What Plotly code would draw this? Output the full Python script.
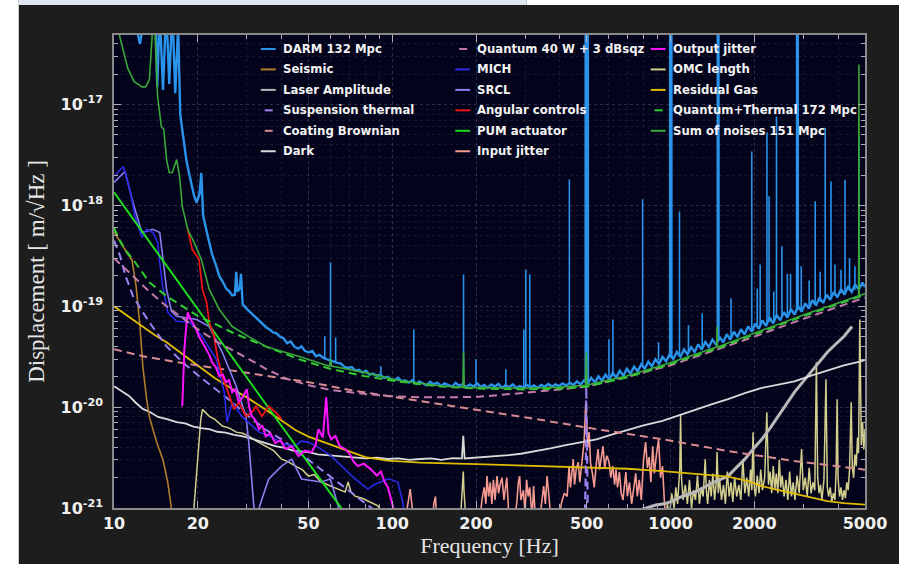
import plotly.graph_objects as go

# ---------------------------------------------------------------------------
# Amplitude spectral densities, displacement [m/sqrt(Hz)] vs frequency [Hz]
# Each series is a list of (frequency, ASD) pairs; None splits a trace.
# ---------------------------------------------------------------------------

darm = [
    (10, 3e-16), (11, 1.5e-16), (12, 6e-17), (12.4, 4.0e-17), (12.8, 7e-17), (13.3, 2e-16),
    (14.0, 2e-16), (14.3, 1.5e-17), (14.6, 8e-17), (15.0, 1.4e-17), (15.4, 9e-17), (15.8, 1.6e-17),
    (16.2, 9e-17), (16.6, 1.3e-17), (17.0, 6e-17), (17.3, 8e-18), (17.6, 5.6e-18), (17.9, 3.8e-18),
    (18.2, 2.8e-18), (18.6, 2.1e-18), (19.0, 1.55e-18), (19.4, 1.25e-18), (19.8, 1.07e-18),
    (20.3, 1.3e-18), (20.6, 2.1e-18), (20.9, 8e-19), (21.5, 5.6e-19), (22.0, 4.4e-19), (22.5, 3.3e-19),
    (23.2, 2.6e-19), (23.9, 2.0e-19), (24.6, 1.75e-19), (25.3, 1.5e-19), (26.0, 1.4e-19), (26.6, 1.28e-19),
    (27.2, 1.3e-19), (27.5, 2.2e-19), (27.8, 1.4e-19), (28.3, 1.5e-19), (28.6, 2.1e-19), (29.0, 1.05e-19),
    (29.8, 9.6e-20), (30.8, 8.8e-20), (31.8, 8.0e-20), (32.6, 7.6e-20), (33.4, 7.0e-20), (34.3, 6.6e-20),
    (35.2, 6.2e-20), (36.2, 5.9e-20), (37.3, 5.5e-20), (38.4, 5.4e-20), (39.5, 5.0e-20), (40.7, 4.8e-20),
    (41.9, 4.3e-20), (43.1, 4.5e-20), (44.4, 4.0e-20), (45.8, 3.8e-20), (47.2, 4.0e-20), (48.6, 3.6e-20),
    (50.1, 3.5e-20), (51.6, 3.6e-20), (53.2, 3.2e-20), (54.8, 3.3e-20), (56.4, 3.1e-20), (58.1, 3.0e-20),
    (59.9, 2.9e-20), (61.7, 2.85e-20), (63.5, 2.75e-20), (65.4, 2.7e-20), (67.4, 2.5e-20), (69.4, 2.45e-20),
    (71.5, 2.5e-20), (73.7, 2.3e-20), (75.9, 2.35e-20), (78.2, 2.2e-20), (80.5, 2.3e-20), (82.9, 2.1e-20),
    (85.4, 2.15e-20), (88.0, 2.05e-20), (90.6, 2.1e-20), (93.3, 1.95e-20), (96.1, 2.0e-20), (99, 1.9e-20),
    (102, 1.85e-20), (105, 1.95e-20), (108, 1.8e-20), (111, 1.85e-20), (115, 1.75e-20), (118, 1.85e-20),
    (122, 1.7e-20), (125, 1.8e-20), (129, 1.72e-20), (133, 1.65e-20), (137, 1.78e-20), (141, 1.68e-20),
    (145, 1.75e-20), (150, 1.62e-20), (154, 1.72e-20), (159, 1.66e-20), (164, 1.6e-20), (169, 1.74e-20),
    (174, 1.62e-20), (179, 1.7e-20), (184, 1.58e-20), (190, 1.68e-20), (196, 1.6e-20), (202, 1.72e-20),
    (208, 1.58e-20), (214, 1.66e-20), (220, 1.55e-20), (227, 1.68e-20), (234, 1.6e-20), (241, 1.7e-20),
    (248, 1.55e-20), (255, 1.64e-20), (263, 1.58e-20), (271, 1.68e-20), (279, 1.55e-20), (287, 1.62e-20),
    (296, 1.56e-20), (305, 1.66e-20), (314, 1.58e-20), (323, 1.64e-20), (333, 1.55e-20), (343, 1.66e-20),
    (353, 1.6e-20), (364, 1.7e-20), (375, 1.6e-20), (386, 1.68e-20), (398, 1.62e-20), (410, 1.72e-20),
    (422, 1.64e-20), (435, 1.74e-20), (448, 1.66e-20), (461, 1.8e-20), (475, 1.68e-20), (489, 1.84e-20),
    (504, 1.7e-20), (519, 1.95e-20), (535, 1.75e-20), (551, 2.02e-20), (567, 1.82e-20), (584, 2.1e-20),
    (602, 1.88e-20), (620, 2.18e-20), (638, 1.97e-20), (657, 2.3e-20), (677, 2.05e-20), (697, 2.4e-20),
    (718, 2.15e-20), (740, 2.52e-20), (762, 2.27e-20), (785, 2.66e-20), (808, 2.4e-20), (832, 2.82e-20),
    (857, 2.53e-20), (883, 2.98e-20), (909, 2.68e-20), (936, 3.14e-20), (964, 2.85e-20), (993, 3.35e-20),
    (1023, 3.0e-20), (1054, 3.52e-20), (1085, 3.16e-20), (1118, 3.72e-20), (1151, 3.34e-20), (1186, 3.93e-20),
    (1221, 3.53e-20), (1258, 4.2e-20), (1295, 3.72e-20), (1334, 4.42e-20), (1374, 3.95e-20), (1415, 4.68e-20),
    (1458, 4.15e-20), (1501, 4.95e-20), (1546, 4.4e-20), (1593, 5.28e-20), (1640, 4.68e-20), (1690, 5.6e-20),
    (1740, 4.95e-20), (1792, 5.92e-20), (1846, 5.25e-20), (1901, 6.32e-20), (1958, 5.6e-20), (2017, 6.75e-20),
    (2077, 5.98e-20), (2140, 7.25e-20), (2204, 6.38e-20), (2270, 7.7e-20), (2338, 6.78e-20), (2408, 8.2e-20),
    (2480, 7.25e-20), (2554, 8.75e-20), (2631, 7.75e-20), (2710, 9.35e-20), (2791, 8.3e-20), (2875, 1.0e-19),
    (2961, 8.88e-20), (3050, 1.07e-19), (3141, 9.5e-20), (3235, 1.15e-19), (3332, 1.02e-19), (3432, 1.22e-19),
    (3535, 1.08e-19), (3641, 1.3e-19), (3750, 1.16e-19), (3863, 1.39e-19), (3979, 1.23e-19), (4098, 1.48e-19),
    (4221, 1.31e-19), (4347, 1.56e-19), (4478, 1.39e-19), (4612, 1.65e-19), (4750, 1.46e-19), (4893, 1.72e-19),
    (5000, 1.55e-19),
]

# DARM lines: (frequency, floor, peak)
darm_lines = [
    (57.2, 3.0e-20, 5.05e-20), (60.0, 2.9e-20, 2.73e-19), (62.6, 2.8e-20, 4.9e-20), (91, 2.05e-20, 2.55e-20),
    (119.5, 1.75e-20, 5.9e-20), (180.4, 1.65e-20, 2.07e-19), (200, 1.6e-20, 2.99e-20), (256, 1.6e-20, 2.38e-20),
    (297, 1.6e-20, 5.9e-20), (302, 1.6e-20, 2.32e-19), (312, 1.6e-20, 2.07e-19), (433, 1.7e-20, 1.81e-18),
    (601, 2.0e-20, 4.7e-20), (621, 2.05e-20, 7.4e-20), (794, 2.55e-20, 1.15e-18), (906, 2.9e-20, 4.4e-20),
    (1077, 3.3e-20, 8.7e-19), (1160, 3.5e-20, 6.5e-20), (1300, 3.9e-20, 8.5e-20), (1650, 4.9e-20, 1.2e-19),
    (1959, 6.0e-20, 3.43e-18), (2050, 6.3e-20, 1.5e-19), (2100, 6.5e-20, 2.6e-19), (2221, 6.6e-20, 5.3e-18),
    (2260, 7.0e-20, 1.23e-18), (2350, 7.2e-20, 1.4e-19), (2404, 7.6e-20, 7.6e-18), (2515, 8.0e-20, 3.93e-19),
    (2630, 8.3e-20, 2.1e-19), (2700, 8.7e-20, 2.1e-19), (2950, 9.2e-20, 2.5e-19), (3150, 9.8e-20, 1.8e-19),
    (3311, 1.05e-19, 1.1e-18), (3450, 1.1e-19, 2.2e-19), (3597, 1.16e-19, 5.9e-18), (3774, 1.24e-19, 1.73e-18),
    (3900, 1.27e-19, 2.6e-19), (4100, 1.35e-19, 2.3e-19), (4237, 1.38e-19, 1.8e-18), (4400, 1.42e-19, 3.0e-19),
    (4600, 1.46e-19, 2.5e-19), (4755, 1.5e-19, 4.8e-18),
]
# Strong DARM lines running off the top of the plot
darm_strong_lines = [
    (497, 1.8e-20, 1e-16), (503, 1.8e-20, 1e-16), (1000, 3.1e-20, 1e-16), (1004, 3.1e-20, 1e-16),
    (1483, 4.5e-20, 1e-16), (2858, 9.3e-20, 1e-16),
]

seismic = [
    (10, 5.5e-19), (10.6, 4.2e-19), (11.2, 3.3e-19), (11.6, 2.9e-19), (12.0, 1.6e-19), (12.4, 6.3e-20),
    (12.7, 2.5e-20), (13.1, 1.2e-20), (13.4, 8.0e-21), (14.2, 4.6e-21), (15.0, 3.0e-21), (15.6, 1.8e-21),
    (16.1, 1.05e-21), (16.5, 6e-22),
]

laser_amplitude = [
    (700, 6e-22), (750, 9.3e-22), (820, 1.0e-21), (885, 1.07e-21), (950, 1.1e-21), (1014, 1.17e-21),
    (1100, 1.3e-21), (1227, 1.44e-21), (1400, 1.75e-21), (1610, 2.07e-21), (1720, 2.5e-21), (1850, 3.05e-21),
    (1990, 3.9e-21), (2128, 4.8e-21), (2280, 6.2e-21), (2430, 8.1e-21), (2600, 1.05e-20), (2790, 1.41e-20),
    (3000, 1.8e-20), (3200, 2.22e-20), (3420, 2.8e-20), (3660, 3.5e-20), (3920, 4.2e-20), (4207, 5.05e-20),
    (4490, 6.3e-20),
]

suspension_thermal = [
    (10, 4.5e-19), (10.5, 3.2e-19), (11.0, 2.0e-19), (11.7, 1.26e-19), (12.6, 9e-20), (13.4, 6.95e-20),
    (15.45, 4.0e-20), (17.6, 2.8e-20), (20.2, 2.03e-20), (23.3, 1.5e-20), (26.6, 1.12e-20), (30.5, 8.1e-21),
    (35, 6.0e-21), (40, 4.8e-21), (50, 3.0e-21), (60, 2.05e-21), (70, 1.48e-21), (80, 1.12e-21), (90, 8.7e-22),
    None,
    (490, 5e-22), (496, 2.5e-21), (498, 1.6e-20), (500, 2.5e-21), (506, 5e-22),
]

coating_brownian = [
    (10, 3.75e-20), (12.7, 3.2e-20), (16.8, 2.79e-20), (22, 2.49e-20), (28.8, 2.22e-20), (38, 1.98e-20),
    (50, 1.77e-20), (73.5, 1.45e-20), (100, 1.27e-20), (126, 1.15e-20), (180, 1.0e-20), (219, 9.2e-21),
    (312, 7.8e-21), (542, 6.05e-21), (936, 4.8e-21), (1610, 3.67e-21), (2790, 2.92e-21), (4200, 2.55e-21),
    (5000, 2.4e-21),
]

dark = [
    (10, 1.61e-20), (10.6, 1.45e-20), (11.3, 1.3e-20), (12.0, 1.1e-20), (12.7, 9.6e-21), (13.5, 8.9e-21),
    (14.4, 8.0e-21), (15.5, 7.6e-21), (16.8, 7.1e-21), (18.0, 6.9e-21), (19.3, 6.4e-21), (20.6, 6.2e-21),
    (22, 6.05e-21), (23.5, 5.7e-21), (25.2, 5.6e-21), (27, 5.3e-21), (28.8, 5.16e-21), (31, 4.9e-21),
    (33.3, 4.6e-21), (35.6, 4.4e-21), (38, 4.1e-21), (41, 3.95e-21), (44, 3.7e-21), (47, 3.65e-21),
    (50, 3.58e-21), (54, 3.4e-21), (58, 3.35e-21), (62, 3.3e-21), (67, 3.25e-21), (73.5, 3.2e-21),
    (80, 3.1e-21), (88, 3.15e-21), (96, 3.06e-21), (105, 3.1e-21), (115, 3.0e-21), (126, 3.06e-21),
    (138, 3.1e-21), (150, 3.0e-21), (165, 3.12e-21), (178, 3.1e-21), (180, 5.2e-21), (182, 3.1e-21),
    (198, 3.15e-21), (219, 3.2e-21), (240, 3.25e-21), (262, 3.35e-21), (290, 3.45e-21), (330, 3.67e-21),
    (370, 3.9e-21), (420, 4.2e-21), (480, 4.5e-21), (542, 4.8e-21), (610, 5.3e-21), (690, 5.9e-21),
    (800, 6.6e-21), (936, 7.3e-21), (1080, 8.4e-21), (1250, 9.6e-21), (1420, 1.08e-20), (1610, 1.2e-20),
    (1850, 1.38e-20), (2128, 1.55e-20), (2450, 1.68e-20), (2790, 1.8e-20), (3200, 2.05e-20), (3660, 2.3e-20),
    (4200, 2.6e-20), (4834, 2.85e-20), (5000, 2.95e-20),
]

quantum = [
    (10, 3.0e-19), (11.7, 2.0e-19), (13.4, 1.4e-19), (15.45, 1.0e-19), (17.6, 7.6e-20), (20.2, 5.8e-20),
    (23.3, 4.5e-20), (26.6, 3.7e-20), (30.5, 3.0e-20), (35.1, 2.4e-20), (42, 1.9e-20), (50, 1.65e-20),
    (60, 1.48e-20), (80, 1.35e-20), (100, 1.28e-20), (130, 1.25e-20), (200, 1.26e-20), (330, 1.42e-20),
    (500, 1.6e-20), (700, 2.0e-20), (1000, 2.6e-20), (1500, 3.8e-20), (2000, 5.0e-20), (3000, 7.5e-20),
    (5000, 1.22e-19),
]

mich = [
    (10, 1.94e-18), (10.8, 2.43e-18), (11.4, 1.44e-18), (11.9, 7.8e-19), (12.6, 4.8e-19), (13.1, 5.8e-19),
    (13.8, 5.4e-19), (14.35, 4.3e-19), (14.6, 2.73e-19), (14.96, 1.58e-19), (15.6, 8.7e-20), (16.8, 7.1e-20),
    (18.7, 6.95e-20), (20.7, 5.05e-20), (23.3, 2.99e-20), (24.9, 1.41e-20), (25.5, 7.1e-21), (26.6, 1.12e-20),
    (28.8, 8.1e-21), (33.2, 5.65e-21), (36, 5.2e-21), (38.1, 4.8e-21), (41, 4.3e-21), (44.9, 4.1e-21),
    (47, 4.6e-21), (50, 4.5e-21), (55, 3.9e-21), (60.4, 3.27e-21), (66, 2.6e-21), (73.5, 1.94e-21),
    (81.7, 1.54e-21), (86, 1.7e-21), (91, 1.81e-21), (97, 1.95e-21), (104.7, 1.81e-21), (109, 1.15e-21),
    (110.8, 8e-22),
]

srcl = [
    (10, 1.69e-18), (10.95, 2.17e-18), (11.7, 1.07e-18), (12.6, 5.4e-19), (13.8, 5.8e-19), (14.6, 5.4e-19),
    (14.96, 3.13e-19), (15.45, 1.47e-19), (16.1, 8.9e-20), (16.8, 7.96e-20), (19.8, 7.4e-20), (22, 6.3e-20),
    (24.5, 3.5e-20), (27.5, 1.61e-20), (29.8, 8.1e-21), (30.5, 4.5e-21), (31.8, 1.05e-21), (32.4, 8e-22),
    (34, 1.23e-21), (36, 1.94e-21), (40, 2.6e-21), (43.5, 3.05e-21), (47.2, 1.94e-21), (55.5, 1.81e-21),
    (59.9, 1.94e-21), (63.9, 1.05e-21), (65, 8e-22),
]

angular_controls = [
    (18.4, 5.8e-19), (19.1, 3.67e-19), (20.2, 2.92e-19), (20.8, 1.47e-19), (21.5, 1.1e-19), (22, 6.95e-20),
    (22.9, 5.05e-20), (23.5, 3.2e-20), (24.5, 2.03e-20), (25.9, 1.29e-20), (27, 9.55e-21), (28.1, 1.12e-20),
    (29.8, 8.1e-21), (31.3, 8.9e-21), (32.4, 1.02e-20), (34, 8.1e-21), (36, 1.02e-20), (38.1, 8.9e-21),
    (40, 7.6e-21),
]

pum_actuator = [
    (10, 1.35e-18), (20, 9.3e-20), (30, 1.94e-20), (40, 6.5e-21), (50, 2.79e-21), (60, 1.38e-21), (70, 7.8e-22),
]

input_jitter = [
    (110, 6e-22), (114, 1.2e-21), (116, 1.54e-21), (118, 1.0e-21), (121, 6e-22), None,
    (139, 6e-22), (141, 1.1e-21), (143, 1.3e-21), (145, 6e-22), None,
    (205, 6e-22), (210, 1.2e-21), (214, 1.6e-21), (217, 1.1e-21), (219, 2.07e-21), (222, 1.3e-21),
    (225, 1.8e-21), (228, 1.1e-21), (231, 1.9e-21), (234, 1.2e-21), (238, 2.07e-21), (241, 1.4e-21),
    (244, 1.7e-21), (248, 2.0e-21), (252, 1.2e-21), (255, 1.6e-21), (258, 2.0e-21), (262, 9e-22),
    (270, 6e-22), (280, 1.1e-21), (284, 1.8e-21), (287, 2.07e-21), (290, 1.2e-21), (296, 1.5e-21),
    (300, 9e-22), (304, 1.9e-21), (308, 1.3e-21), (312, 1.6e-21), (318, 8e-22), (322, 1.65e-21),
    (326, 9e-22), (335, 6e-22), (345, 1.2e-21), (350, 1.65e-21), (355, 1.1e-21), (360, 2.07e-21),
    (364, 1.5e-21), (368, 1.0e-21), (375, 6e-22), (390, 6e-22), (405, 1.1e-21), (415, 1.4e-21),
    (425, 1.3e-21), (432, 2.6e-21), (437, 1.6e-21), (442, 2.2e-21), (447, 3.05e-21), (452, 1.7e-21),
    (458, 2.4e-21), (466, 2.85e-21), (472, 1.8e-21), (478, 2.5e-21), (484, 3.3e-21), (489, 4.5e-21),
    (492, 6.5e-21), (496, 1.12e-20), (500, 7.0e-21), (505, 4.0e-21), (510, 5.65e-21), (516, 2.8e-21),
    (524, 2.2e-21), (532, 1.6e-21), (540, 2.6e-21), (549, 3.84e-21), (556, 2.4e-21), (565, 3.2e-21),
    (572, 4.1e-21), (580, 2.5e-21), (590, 3.3e-21), (601, 2.9e-21), (610, 2.0e-21), (620, 2.6e-21),
    (630, 1.7e-21), (637, 2.4e-21), (645, 1.6e-21), (655, 2.27e-21), (665, 1.4e-21), (675, 1.2e-21),
    (691, 2.27e-21), (700, 1.3e-21), (712, 1.8e-21), (725, 1.1e-21), (740, 1.6e-21), (750, 2.2e-21),
    (760, 1.3e-21), (772, 1.9e-21), (785, 1.2e-21), (800, 3.0e-21), (814, 4.5e-21), (826, 2.5e-21),
    (838, 3.2e-21), (850, 1.8e-21), (863, 4.1e-21), (875, 2.2e-21), (890, 3.4e-21), (906, 4.8e-21),
    (921, 2.0e-21), (936, 2.6e-21), (950, 1.2e-21), (965, 6e-22),
]

output_jitter = [
    (17.6, 1.02e-20), (17.8, 2.0e-20), (17.9, 3.75e-20), (18.2, 6.5e-20), (18.4, 8.7e-20), (18.8, 7.5e-20),
    (19.1, 6.95e-20), (19.6, 6.2e-20), (20.2, 5.05e-20), (20.8, 4.4e-20), (21.5, 3.75e-20), (22.0, 3.3e-20),
    (22.5, 2.79e-20), (23.2, 2.5e-20), (23.9, 2.03e-20), (24.6, 2.1e-20), (25.3, 1.77e-20), (25.9, 1.85e-20),
    (26.6, 1.41e-20), (27.3, 1.5e-20), (28.1, 1.12e-20), (29.0, 1.25e-20), (30.0, 1.51e-20), (30.6, 1.0e-20),
    (31.3, 8.1e-21), (32.2, 7.5e-21), (33.2, 6.05e-21), (34.1, 6.6e-21), (35.1, 5.16e-21), (36.5, 5.5e-21),
    (38, 4.4e-21), (39.6, 4.7e-21), (41.4, 3.84e-21), (43.5, 4.1e-21), (46, 3.27e-21), (48.5, 3.7e-21),
    (51.3, 3.58e-21), (53, 4.2e-21), (54.3, 6.05e-21), (56.3, 5.0e-21), (57.9, 1.26e-20), (59, 5.5e-21),
    (60.4, 4.8e-21), (62.5, 5.2e-21), (64.7, 4.1e-21), (67.7, 3.84e-21), (70.5, 3.4e-21), (72.5, 2.9e-21),
    (75.2, 2.6e-21), (79, 2.75e-21), (83.6, 2.43e-21), (88, 2.1e-21), (91, 2.3e-21), (93.9, 1.81e-21),
    (96.5, 1.6e-21), (98.5, 1.31e-21), (101.9, 9e-22),
]

omc_length = [
    (19.1, 6e-22), (19.6, 1.5e-21), (20.1, 4e-21), (20.5, 7.5e-21), (20.8, 9.5e-21), (21.3, 8.8e-21),
    (22.0, 8.1e-21), (23.0, 7.6e-21), (24.5, 6.5e-21), (26.0, 6.2e-21), (27.5, 5.65e-21), (29.0, 5.5e-21),
    (30.5, 5.16e-21), (32.5, 4.6e-21), (35.1, 4.1e-21), (37.5, 3.7e-21), (40, 3.05e-21), (42, 2.9e-21),
    (44.9, 2.6e-21), (47.5, 2.4e-21), (50, 2.07e-21), (52.5, 2.15e-21), (55.5, 1.81e-21), (59, 1.7e-21),
    (63.9, 1.54e-21), (67.7, 1.44e-21), (69.4, 1.81e-21), (71, 1.45e-21), (73.5, 1.31e-21), (78, 1.25e-21),
    (83.6, 1.15e-21), (88.8, 1.05e-21), (94, 8e-22), None,
    (175, 6e-22), (179, 1.5e-21), (180, 2.3e-21), (181, 1.5e-21), (185, 6e-22), None,
    (950, 6e-22), (975, 1.1e-21), (990, 8e-22), (1010, 1.4e-21), (1030, 1.0e-21), (1045, 1.6e-21),
    (1060, 1.1e-21), (1080, 2.5e-21), (1087, 8.5e-21), (1095, 2.0e-21), (1110, 1.2e-21), (1130, 1.7e-21),
    (1150, 1.1e-21), (1170, 1.9e-21), (1190, 1.0e-21), (1210, 1.5e-21), (1230, 1.2e-21), (1250, 2.1e-21),
    (1270, 1.1e-21), (1290, 1.6e-21), (1310, 1.3e-21), (1333, 3.05e-21), (1345, 1.5e-21), (1360, 1.1e-21),
    (1380, 1.9e-21), (1400, 1.3e-21), (1420, 2.2e-21), (1440, 1.2e-21), (1460, 1.8e-21), (1470, 3.6e-21),
    (1485, 1.4e-21), (1500, 2.0e-21), (1525, 1.2e-21), (1550, 1.7e-21), (1575, 1.1e-21), (1600, 2.3e-21),
    (1625, 1.3e-21), (1650, 1.8e-21), (1675, 1.15e-21), (1700, 2.0e-21), (1730, 1.3e-21), (1760, 1.7e-21),
    (1790, 1.2e-21), (1820, 3.05e-21), (1850, 1.4e-21), (1880, 2.0e-21), (1910, 1.3e-21), (1940, 2.4e-21),
    (1960, 1.5e-21), (1980, 5.65e-21), (2000, 1.6e-21), (2020, 1.3e-21), (2050, 2.1e-21), (2080, 1.4e-21),
    (2110, 2.4e-21), (2140, 1.5e-21), (2180, 2.0e-21), (2219, 8.9e-21), (2250, 1.7e-21), (2280, 2.3e-21),
    (2310, 1.4e-21), (2340, 2.6e-21), (2370, 1.5e-21), (2400, 2.2e-21), (2430, 1.4e-21), (2460, 3.0e-21),
    (2490, 1.6e-21), (2520, 2.1e-21), (2560, 1.3e-21), (2600, 1.9e-21), (2640, 1.2e-21), (2680, 2.3e-21),
    (2720, 1.3e-21), (2760, 1.8e-21), (2800, 1.2e-21), (2850, 2.1e-21), (2900, 1.4e-21), (2958, 3.84e-21),
    (3000, 1.5e-21), (3050, 2.0e-21), (3100, 1.3e-21), (3150, 2.5e-21), (3200, 1.4e-21), (3250, 1.8e-21),
    (3300, 1.5e-21), (3344, 2.79e-20), (3380, 2.0e-21), (3420, 1.4e-21), (3460, 1.7e-21), (3500, 1.2e-21),
    (3560, 1.9e-21), (3620, 1.89e-20), (3660, 1.6e-21), (3700, 1.3e-21), (3750, 1.6e-21), (3800, 1.15e-21),
    (3850, 1.4e-21), (3900, 1.2e-21), (3940, 2.5e-21), (3970, 1.2e-20), (4000, 2.0e-21), (4050, 1.3e-21),
    (4100, 1.6e-21), (4150, 1.2e-21), (4200, 1.5e-21), (4250, 1.25e-21), (4300, 1.8e-21), (4350, 1.5e-21),
    (4400, 2.4e-21), (4460, 1.12e-20), (4500, 2.6e-21), (4550, 2.0e-21), (4600, 3.4e-21), (4650, 2.6e-21),
    (4700, 5.0e-21), (4740, 3.5e-21), (4790, 7.4e-20), (4820, 6.0e-21), (4850, 4.2e-21), (4900, 7.0e-21),
    (4950, 3.8e-21), (5000, 6.0e-21),
]

residual_gas = [
    (10, 1.0e-19), (11, 8.3e-20), (12.7, 6.35e-20), (14, 5.2e-20), (15.45, 4.4e-20), (17.5, 3.4e-20),
    (20, 2.6e-20), (23, 1.95e-20), (26.6, 1.51e-20), (30, 1.25e-20), (35, 9.5e-21), (40, 7.4e-21),
    (45, 5.9e-21), (50, 5.1e-21), (55.5, 4.6e-21), (62, 4.1e-21), (70, 3.6e-21), (80, 3.2e-21),
    (96, 2.95e-21), (126, 2.82e-21), (200, 2.72e-21), (330, 2.62e-21), (500, 2.55e-21), (700, 2.45e-21),
    (936, 2.32e-21), (1200, 2.2e-21), (1610, 2.05e-21), (1900, 1.85e-21), (2128, 1.65e-21), (2450, 1.5e-21),
    (2790, 1.38e-21), (3200, 1.26e-21), (3660, 1.17e-21), (4200, 1.12e-21), (5000, 1.08e-21),
]

quantum_thermal = [
    (10, 6.0e-19), (10.5, 4.5e-19), (11.0, 3.6e-19), (11.7, 2.92e-19), (12.6, 2.2e-19), (13.4, 1.73e-19),
    (15.45, 1.26e-19), (17.6, 1.0e-19), (20.2, 7.9e-20), (23.3, 6.6e-20), (26.6, 5.5e-20), (35.1, 4.0e-20),
    (46, 3.0e-20), (60.4, 2.38e-20), (79.8, 2.03e-20), (104.7, 1.8e-20), (150, 1.6e-20), (200, 1.53e-20),
    (300, 1.5e-20), (400, 1.53e-20), (500, 1.6e-20), (700, 1.98e-20), (1000, 2.68e-20), (1500, 3.9e-20),
    (2000, 5.25e-20), (3000, 8.0e-20), (4000, 1.05e-19), (5000, 1.3e-19),
]

sum_of_noises = [
    (10, 8e-17), (10.5, 4.6e-17), (11.2, 2.3e-17), (11.8, 1.7e-17), (12.6, 1.5e-17), (13.0, 1.5e-17),
    (13.4, 1.77e-17), (13.7, 4.6e-17), (13.85, 1e-16), (14.0, 6e-17), (14.2, 2.0e-17), (14.35, 1.2e-17),
    (14.8, 6.0e-18), (15.1, 5.7e-18), (15.45, 2.85e-18), (15.8, 2.12e-18), (16.2, 2.12e-18), (16.8, 2.85e-18),
    (17.2, 1.94e-18), (17.6, 9.8e-19), (18.4, 5.8e-19), (19.4, 4.3e-19), (20.6, 2.92e-19), (22.0, 1.47e-19),
    (23.9, 9.3e-20), (26.6, 6.3e-20), (30.5, 5.0e-20), (35.1, 4.0e-20), (46, 3.2e-20), (59.5, 2.55e-20),
    (60.0, 3.0e-20), (60.5, 2.55e-20), (79.8, 2.2e-20), (104.7, 1.85e-20), (150, 1.62e-20), (179.5, 1.57e-20),
    (180.4, 3.5e-20), (181.3, 1.57e-20), (200, 1.56e-20), (300, 1.54e-20), (400, 1.58e-20), (495, 1.65e-20),
    (498, 3.5e-20), (501, 1.66e-20), (700, 2.05e-20), (1000, 2.75e-20), (1465, 3.95e-20), (1470, 6.3e-20),
    (1475, 3.95e-20), (2000, 5.4e-20), (3000, 8.2e-20), (4000, 1.08e-19), (4745, 1.27e-19), (4755, 2.5e-17),
    (4765, 1.28e-19), (5000, 1.33e-19),
]

# ---------------------------------------------------------------------------

FIG_W, FIG_H = 899, 564
M_L, M_R, M_T, M_B = 114, 28, 35, 55
PLOT_W = FIG_W - M_L - M_R
PLOT_H = FIG_H - M_T - M_B


def unzip(points):
    xs, ys = [], []
    for p in points:
        if p is None:
            xs.append(None)
            ys.append(None)
        else:
            xs.append(p[0])
            ys.append(p[1])
    return xs, ys


def line_segments(lines):
    xs, ys = [], []
    for f, lo, hi in lines:
        xs += [f, f, None]
        ys += [lo, hi, None]
    return xs, ys


def px_to_paper_x(px):
    return (px - M_L) / PLOT_W


def px_to_paper_y(py):
    return (FIG_H - M_B - py) / PLOT_H


fig = go.Figure()
DASH = "8px,5px"

# name -> (color, dashed)
styles = {
    "DARM 132 Mpc": ("#2a93ea", False),
    "Seismic": ("#b07e2a", False),
    "Laser Amplitude": ("#b9b9b9", False),
    "Suspension thermal": ("#9c82f2", True),
    "Coating Brownian": ("#d88c92", True),
    "Dark": ("#dadada", False),
    "Quantum 40 W + 3 dBsqz": ("#c47aa6", True),
    "MICH": ("#2a2ae8", False),
    "SRCL": ("#8a7ef0", False),
    "Angular controls": ("#ee1414", False),
    "PUM actuator": ("#1fdc1f", False),
    "Input jitter": ("#f49a90", False),
    "Output jitter": ("#ff14ff", False),
    "OMC length": ("#d3cf8c", False),
    "Residual Gas": ("#e0bc00", False),
    "Quantum+Thermal 172 Mpc": ("#2fd02f", True),
    "Sum of noises 151 Mpc": ("#3aa83a", False),
}


def add(points, name, width):
    color, dashed = styles[name]
    xs, ys = unzip(points)
    fig.add_trace(go.Scatter(
        x=xs, y=ys, mode="lines", name=name, showlegend=False, connectgaps=False,
        line=dict(color=color, width=width, dash=DASH if dashed else "solid"),
        hoverinfo="skip",
    ))


# drawing order is back to front
add(input_jitter, "Input jitter", 1.6)
add(omc_length, "OMC length", 1.5)
add(laser_amplitude, "Laser Amplitude", 3)
add(dark, "Dark", 1.8)
add(seismic, "Seismic", 1.6)
add(residual_gas, "Residual Gas", 1.8)
add(coating_brownian, "Coating Brownian", 2)
add(suspension_thermal, "Suspension thermal", 2)
add(srcl, "SRCL", 1.6)
add(mich, "MICH", 1.6)
add(pum_actuator, "PUM actuator", 2)
add(angular_controls, "Angular controls", 1.8)
add(output_jitter, "Output jitter", 2)

# measured DARM spectrum with its narrow lines
add(darm, "DARM 132 Mpc", 2.4)
lx, ly = line_segments(darm_lines)
fig.add_trace(go.Scatter(x=lx, y=ly, mode="lines", showlegend=False, hoverinfo="skip",
                         line=dict(color=styles["DARM 132 Mpc"][0], width=1.6)))
sx, sy = line_segments(darm_strong_lines)
fig.add_trace(go.Scatter(x=sx, y=sy, mode="lines", showlegend=False, hoverinfo="skip",
                         line=dict(color=styles["DARM 132 Mpc"][0], width=3.2)))

add(quantum, "Quantum 40 W + 3 dBsqz", 2)
add(quantum_thermal, "Quantum+Thermal 172 Mpc", 2)
add(sum_of_noises, "Sum of noises 151 Mpc", 1.6)

# ---------------------------------------------------------------------------
# Legend: three columns of six rows inside the axes
legend_columns = [
    ["DARM 132 Mpc", "Seismic", "Laser Amplitude", "Suspension thermal", "Coating Brownian", "Dark"],
    ["Quantum 40 W + 3 dBsqz", "MICH", "SRCL", "Angular controls", "PUM actuator", "Input jitter"],
    ["Output jitter", "OMC length", "Residual Gas", "Quantum+Thermal 172 Mpc", "Sum of noises 151 Mpc"],
]
col_px = [262, 458, 655]
row_px = [49, 69.5, 90, 110.5, 131, 151.5]
for ci, names in enumerate(legend_columns):
    for ri, name in enumerate(names):
        color, dashed = styles[name]
        x0 = col_px[ci]
        y = px_to_paper_y(row_px[ri])
        a, b = (x0 + 4, x0 + 12) if dashed else (x0, x0 + 15)
        fig.add_shape(type="line", xref="paper", yref="paper",
                      x0=px_to_paper_x(a), x1=px_to_paper_x(b), y0=y, y1=y,
                      line=dict(color=color, width=2), layer="above")
        fig.add_annotation(xref="paper", yref="paper", x=px_to_paper_x(x0 + 20), y=y,
                           xanchor="left", yanchor="middle", showarrow=False, text=name,
                           font=dict(family="DejaVu Sans", size=11.7, color="#f2f2f2", weight="bold"))

# ---------------------------------------------------------------------------
grid = "rgba(130,130,170,0.35)"
minor_grid = "rgba(110,110,150,0.18)"
tick_font = dict(family="DejaVu Sans", size=16, color="#f0f0f0", weight="bold")
title_font = dict(family="Liberation Serif", size=22, color="#e6e6e6")

x_major = [10, 20, 50, 100, 200, 500, 1000, 2000, 5000]
x_minor = [30, 40, 60, 70, 80, 90, 300, 400, 600, 700, 800, 900, 3000, 4000]
y_major = [1e-21, 1e-20, 1e-19, 1e-18, 1e-17]
y_minor = [k * 10.0 ** e for e in range(-21, -16) for k in range(2, 10)]

fig.update_xaxes(
    type="log", range=[1, 3.69897], tickvals=x_major, ticktext=[str(v) for v in x_major],
    tickfont=tick_font, ticks="inside", ticklen=7, tickcolor="#b0b0b0",
    showline=True, linecolor="#8a8a8a", linewidth=1.5, mirror="allticks",
    showgrid=True, gridcolor=grid, griddash="dot", zeroline=False,
    minor=dict(tickmode="array", tickvals=x_minor, ticks="inside", ticklen=4, tickcolor="#b0b0b0",
               showgrid=True, gridcolor=minor_grid, griddash="dot"),
    title=dict(text="Frequency [Hz]", font=title_font, standoff=4),
)
fig.update_yaxes(
    type="log", range=[-21, -16.31], tickvals=y_major,
    ticktext=["10<sup>%d</sup>" % e for e in range(-21, -16)],
    tickfont=tick_font, ticks="inside", ticklen=7, tickcolor="#b0b0b0", ticklabelstandoff=6,
    showline=True, linecolor="#8a8a8a", linewidth=1.5, mirror="allticks",
    showgrid=True, gridcolor=grid, griddash="dot", zeroline=False,
    minor=dict(tickmode="array", tickvals=y_minor, ticks="inside", ticklen=4, tickcolor="#b0b0b0",
               showgrid=True, gridcolor=minor_grid, griddash="dot"),
    title=dict(text="Displacement [ m/√Hz ]", font=dict(title_font, size=23), standoff=10),
)

# dark figure panel with the page edges around it
panel_shapes = [
    (-40, 18, -40, FIG_H + 40, "#ffffff"),
    (18, 530, -40, 5, "#dfe6ef"),
    (530, FIG_W + 40, -40, 5, "#ffffff"),
]
for x0, x1, y0, y1, fill in panel_shapes:
    fig.add_shape(type="rect", xref="paper", yref="paper",
                  x0=px_to_paper_x(x0), x1=px_to_paper_x(x1), y0=px_to_paper_y(y1), y1=px_to_paper_y(y0),
                  fillcolor=fill, line=dict(width=0), layer="above")

fig.update_layout(
    width=FIG_W, height=FIG_H,
    margin=dict(l=M_L, r=M_R, t=M_T, b=M_B),
    paper_bgcolor="#1d1d1d", plot_bgcolor="#03031b",
    showlegend=False,
)

# page without default margins or scrollbars so the figure fills the window exactly
page_style = (
    "document.documentElement.style.margin='0';"
    "document.documentElement.style.overflow='hidden';"
    "document.body.style.margin='0';"
    "document.body.style.overflow='hidden';"
)
fig.write_html("out.html", config={"responsive": False, "displayModeBar": False}, post_script=page_style)
